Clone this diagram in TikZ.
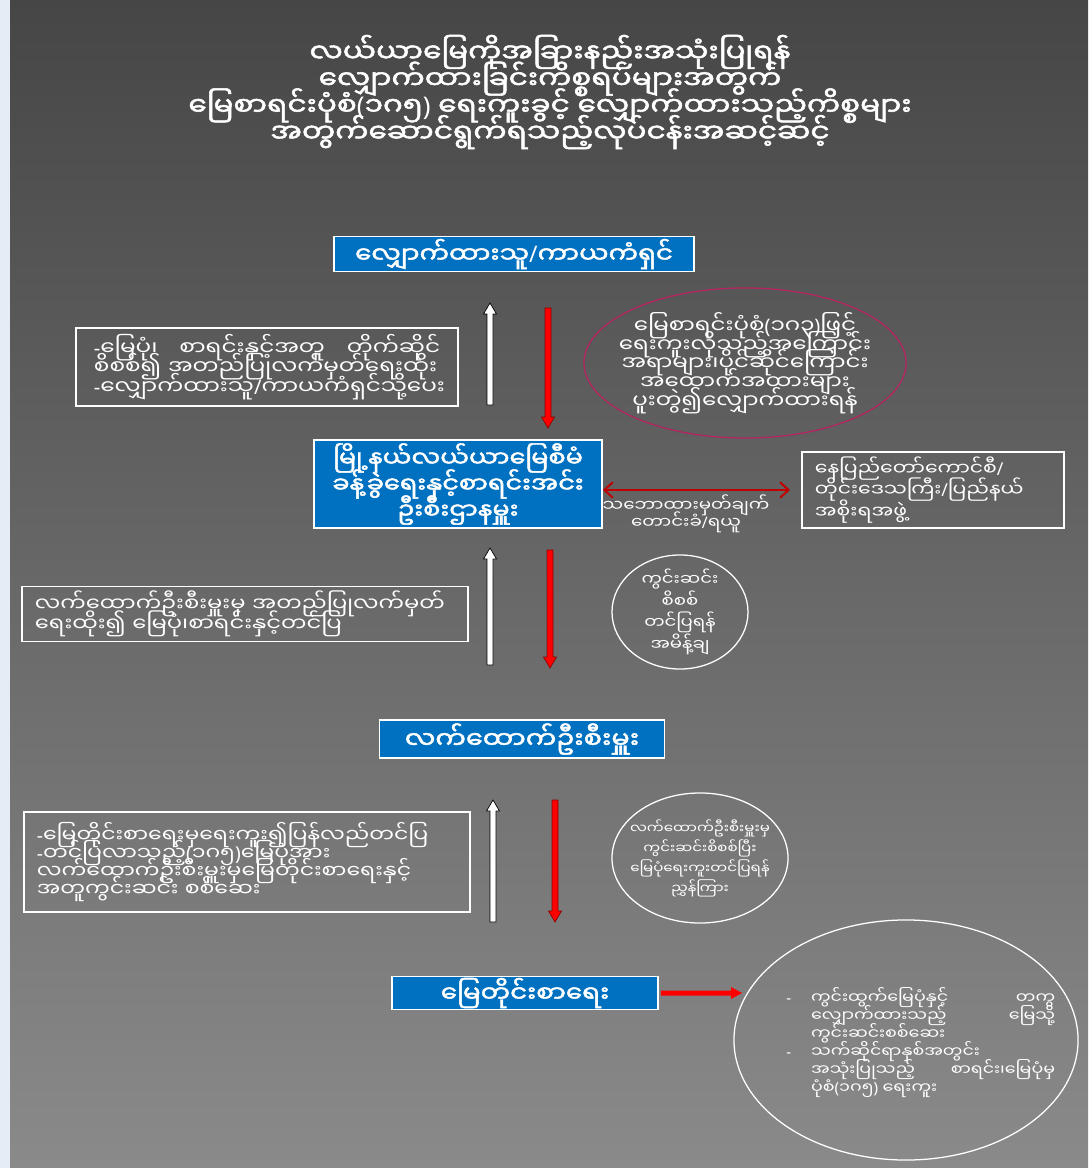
\documentclass[tikz,border=0pt]{standalone}
\usepackage{fontspec}
\usetikzlibrary{arrows.meta,shapes.geometric,calc}
\newfontfamily\mm[Script=Myanmar,FakeStretch=1.15]{Noto Sans Myanmar UI}
\newfontfamily\mmb[Script=Myanmar,FakeStretch=1.15,FakeBold=2]{Noto Sans Myanmar UI}
\newfontfamily\lat{Noto Sans}
\newcommand\q[1]{{\lat #1}}
\newcommand\qb[1]{{\lat\bfseries #1}}
\definecolor{bgtop}{HTML}{464646}
\definecolor{bgbot}{HTML}{8A8A8A}
\definecolor{boxblue}{HTML}{0070C0}
\definecolor{arred}{HTML}{FF0000}
\definecolor{arrdark}{HTML}{8B0000}
\definecolor{dred}{HTML}{C00000}
\definecolor{crim}{HTML}{B5245F}
\definecolor{edge}{HTML}{E4ECF6}
\newcommand\blockarr[4]{% style, x, y from, y to  (vertical)
  \path[#1] ({#2-3},#3) -- ({#2-3},{#4-11*sign(#4-#3)}) -- ({#2-6.5},{#4-11*sign(#4-#3)}) -- (#2,#4)
     -- ({#2+6.5},{#4-11*sign(#4-#3)}) -- ({#2+3},{#4-11*sign(#4-#3)}) -- ({#2+3},#3) -- cycle;}
\newcommand\fs[2]{\fontsize{#1}{#2}\selectfont\lineskiplimit=-50pt\lineskip=0pt}
\newcommand\ind{\hbox to 0.62cm{}}
\newcommand\dsh{\hbox to 0.62cm{\q{-}\hfil}}
\tikzset{
  bluebox/.style={draw=white, line width=1.2pt, fill=boxblue, text=white, inner sep=0pt, align=center},
  linebox/.style={draw=white, line width=0.9pt, text=white, font=\mm\fs{13.5}{13.8}, inner ysep=0pt, inner xsep=0.325cm, align=left},
  oval/.style={ellipse, draw=white, line width=0.9pt, inner sep=0pt},
  ovaltext/.style={text=white, inner sep=0pt, align=center},
  whitearr/.style={fill=white, draw=black, line width=0.5pt},
  redarr/.style={fill=arred, draw=arrdark, line width=0.5pt},
}
\begin{document}
\begin{tikzpicture}[x=0.025cm, y=-0.025cm]
\useasboundingbox (0,0) rectangle (1088,1168);
\shade[top color=bgtop, bottom color=bgbot] (0,0) rectangle (1088,1168);
\fill[edge] (0,0) rectangle (10,1168);

% title
\node[text=white, font=\mmb\fs{18.3}{19}, align=center, inner sep=0pt] (title) at (550,92)
 {လယ်ယာမြေကိုအခြားနည်းအသုံးပြုရန်\\
  လျှောက်ထားခြင်းကိစ္စရပ်များအတွက်\\
  မြေစာရင်းပုံစံ\q{(}၁ဂ၅\q{)} ရေးကူးခွင့် လျှောက်ထားသည့်ကိစ္စများ\\
  အတွက်ဆောင်ရွက်ရသည့်လုပ်ငန်းအဆင့်ဆင့်};

% main boxes
\node[bluebox, font=\mmb\fs{16.2}{19}, minimum width=9cm, minimum height=0.875cm] (app) at (514,254) {လျှောက်ထားသူ\qb{/}ကာယကံရှင်};
\node[bluebox, font=\mmb\fs{15.8}{18.5}, minimum width=7.2cm, minimum height=2.2cm] (twn) at (458,484)
 {မြို့နယ်လယ်ယာမြေစီမံ\\ခန့်ခွဲရေးနှင့်စာရင်းအင်း\\ဦးစီးဌာနမှူး};
\node[bluebox, font=\mmb\fs{16.8}{19}, minimum width=7.125cm, minimum height=0.95cm] (asst) at (522,739) {လက်ထောက်ဦးစီးမှူး};
\node[bluebox, font=\mmb\fs{16.2}{19}, minimum width=6.65cm, minimum height=0.825cm] (clerk) at (525,993) {မြေတိုင်းစာရေး};

% side boxes
\node[linebox, font=\mm\fs{14.3}{13.8}, text width=8.65cm, inner xsep=0.45cm, minimum height=1.95cm] (b1) at (267,367)
 {\hbox to 8.65cm{\q{-}မြေပုံ၊\hfill စာရင်းနှင့်အတူ\hfill တိုက်ဆိုင်}\\
  \mbox{စိစစ်၍ အတည်ပြုလက်မှတ်ရေးထိုး}\\
  \mbox{\q{-}လျှောက်ထားသူ\q{/}ကာယကံရှင်သို့ပေး}};
\node[linebox, font=\mm\fs{12.6}{15.5}, text width=5.9cm, minimum height=1.9cm] (gov) at (933,490)
 {နေပြည်တော်ကောင်စီ\q{/}\\တိုင်းဒေသကြီး\q{/}ပြည်နယ်\\အစိုးရအဖွဲ့};
\node[linebox, font=\mm\fs{14}{13.8}, text width=10.5cm, minimum height=1.375cm] (b2) at (245,614)
 {လက်ထောက်ဦးစီးမှူးမှ အတည်ပြုလက်မှတ်\\ရေးထိုး၍ မြေပုံ၊စာရင်းနှင့်တင်ပြ};
\node[linebox, font=\mm\fs{13.6}{12.8}, text width=10.5cm, minimum height=2.5cm] (b3) at (247,862)
 {\mbox{\q{-}မြေတိုင်းစာရေးမှရေးကူး၍ပြန်လည်တင်ပြ}\\
  \mbox{\q{-}တင်ပြလာသည့်\q{(}၁ဂ၅\q{)}မြေပုံအား}\\
  လက်ထောက်ဦးစီးမှူးမှမြေတိုင်းစာရေးနှင့်\\
  အတူကွင်းဆင်း စစ်ဆေး};

% ovals
\node[oval, draw=crim, minimum width=8.05cm, minimum height=3.75cm] (e1) at (745,363) {};
\node[ovaltext, font=\mm\fs{14.2}{13.3}] (e1t) at (e1.center)
 {မြေစာရင်းပုံစံ\q{(}၁ဂ၃\q{)}ဖြင့်\\ရေးကူးလိုသည့်အကြောင်း\\အရာများ၊ပိုင်ဆိုင်ကြောင်း\\အထောက်အထားများ\\ပူးတွဲ၍လျှောက်ထားရန်};
\node[oval, minimum width=3.4cm, minimum height=2.85cm] (e2) at (680,612) {};
\node[ovaltext, font=\mm\fs{11.2}{15.3}] (e2t) at (e2.center)
 {ကွင်းဆင်း\\စိစစ်\\တင်ပြရန်\\အမိန့်ချ};
\node[oval, minimum width=4.4cm, minimum height=3.25cm] (e3) at (700,858) {};
\node[ovaltext, font=\mm\fs{9.3}{14.2}] (e3t) at (e3.center)
 {လက်ထောက်ဦးစီးမှူးမှ\\ကွင်းဆင်းစိစစ်ပြီး\\မြေပုံရေးကူးတင်ပြရန်\\ညွှန်ကြား};
\node[oval, minimum width=8.6cm, minimum height=6cm] (e4) at (906,1040) {};
\node[text=white, font=\mm\fs{10.8}{12.9}, anchor=north west, inner sep=0pt, align=left] (e4t) at (786,987)
 {\dsh\hbox to 6.1cm{ကွင်းထွက်မြေပုံနှင့်\hfill တကွ}\\
  \ind\hbox to 6.1cm{လျှောက်ထားသည့်\hfill မြေသို့}\\
  \ind ကွင်းဆင်းစစ်ဆေး\\
  \dsh သက်ဆိုင်ရာနှစ်အတွင်း\\
  \ind\hbox to 6.1cm{အသုံးပြုသည့်\hfill စာရင်း၊မြေပုံမှ}\\
  \ind ပုံစံ\q{(}၁ဂ၅\q{)} ရေးကူး};

% double arrow and label
\coordinate (govw) at (790,490);
\draw[dred, line width=1.4pt, {Straight Barb[length=6pt,width=11pt]}-{Straight Barb[length=6pt,width=11pt]}] (twn.east |- govw) -- (govw);
\node[text=white, font=\mm\fs{11.3}{12.5}, align=center, inner sep=0pt] (lbl) at (686,514) {သဘောထားမှတ်ချက်\\တောင်းခံ\q{/}ရယူ};

% vertical block arrows
\blockarr{whitearr}{490}{405}{303}
\blockarr{redarr}{548}{308}{428}
\blockarr{whitearr}{490}{665}{548}
\blockarr{redarr}{550}{550}{668}
\blockarr{whitearr}{493}{922}{800}
\blockarr{redarr}{555}{800}{922}

% clerk -> oval
\coordinate (e4w) at (742,993);
\path[fill=arred] ($(clerk.east)+(2,-2.5)$) -- (731,990.5) -- (731,987) -- (e4w) -- (731,999) -- (731,995.5) -- ($(clerk.east)+(2,2.5)$) -- cycle;
\end{tikzpicture}
\end{document}
